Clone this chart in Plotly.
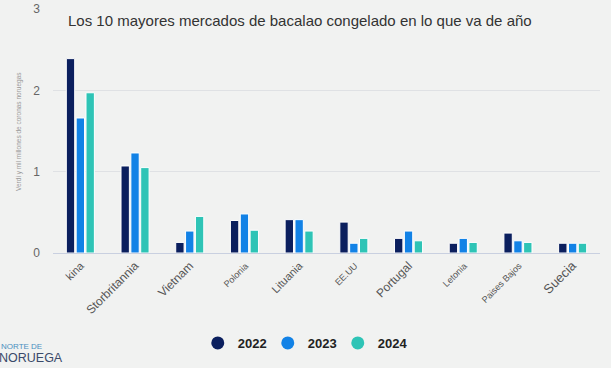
import plotly.graph_objects as go

categories = ["kina", "Storbritannia", "Vietnam", "Polonia", "Lituania",
              "EE.UU", "Portugal", "Letonia", "Paises Bajos", "Suecia"]
tick_sizes = [11, 12, 12, 9, 11, 9, 12, 9, 9, 13]
years = ["2022", "2023", "2024"]
v2022 = [2.39, 1.07, 0.13, 0.40, 0.41, 0.38, 0.18, 0.12, 0.245, 0.12]
v2023 = [1.66, 1.23, 0.27, 0.48, 0.41, 0.12, 0.27, 0.18, 0.15, 0.12]
v2024 = [1.97, 1.05, 0.45, 0.28, 0.27, 0.18, 0.15, 0.13, 0.13, 0.12]
colors = ["#0b1f5e", "#1282e6", "#2ec4b6"]
BG = "#f1f2f1"

fig = go.Figure()
for name, vals, col in zip(years, [v2022, v2023, v2024], colors):
    fig.add_trace(go.Bar(x=categories, y=vals, name=name, marker_color=col,
                         marker_line_color="white", marker_line_width=1,
                         showlegend=False))
for name, col in zip(years, colors):
    fig.add_trace(go.Scatter(x=[None], y=[None], mode="markers", name=name,
                             marker=dict(color=col, size=13, symbol="circle")))

ticktext = [f'<span style="font-size:{s}px">{c}</span>' for c, s in zip(categories, tick_sizes)]

fig.update_layout(
    width=611, height=368,
    margin=dict(l=53, r=11, t=9, b=115, autoexpand=False),
    paper_bgcolor=BG, plot_bgcolor=BG,
    font=dict(family="Liberation Sans, Arial, sans-serif", color="#555"),
    barmode="group", bargap=0.46, bargroupgap=0.15,
    title=dict(text="Los 10 mayores mercados de bacalao congelado en lo que va de año",
               x=68/611, xanchor="left", y=1-21/368, yanchor="middle",
               font=dict(size=15, color="#333")),
    xaxis=dict(tickmode="array", tickvals=categories, ticktext=ticktext,
               tickangle=-45, tickfont=dict(size=12, color="#555"),
               showline=True, linecolor="#c9d0e0", linewidth=1, ticks="",
               automargin=False),
    yaxis=dict(range=[0, 3], tickvals=[0, 1, 2, 3], showgrid=True,
               gridcolor="#dfe1e4", zeroline=False, automargin=False,
               tickfont=dict(size=12, color="#666"), ticklabelstandoff=12),
    legend=dict(orientation="h", x=279/611, xanchor="center", y=1-343/368,
                yref="container", yanchor="middle",
                font=dict(size=13, color="#222", weight="bold"),
                itemsizing="trace", itemwidth=30, entrywidth=25,
                entrywidthmode="pixels", bgcolor="rgba(0,0,0,0)"),
    annotations=[
        dict(text="Verdi y mil millones de coronas noruegas", textangle=-90,
             xref="paper", yref="paper", x=0, xshift=-40, y=0.496,
             showarrow=False, font=dict(size=6.5, color="#999")),
        dict(text="NORTE DE", xref="paper", yref="paper", x=0, xshift=-54,
             xanchor="left", y=-0.385, yanchor="middle", showarrow=False,
             font=dict(size=8, color="#4a8fc0")),
        dict(text="NORUEGA", xref="paper", yref="paper", x=0, xshift=-56,
             xanchor="left", y=-0.43, yanchor="middle", showarrow=False,
             font=dict(size=12.5, color="#3a4a6a")),
    ],
)

fig.write_html("out.html", config={"displayModeBar": False},
               post_script="document.body.style.margin='0';"
                           "document.body.style.background='" + BG + "';")
